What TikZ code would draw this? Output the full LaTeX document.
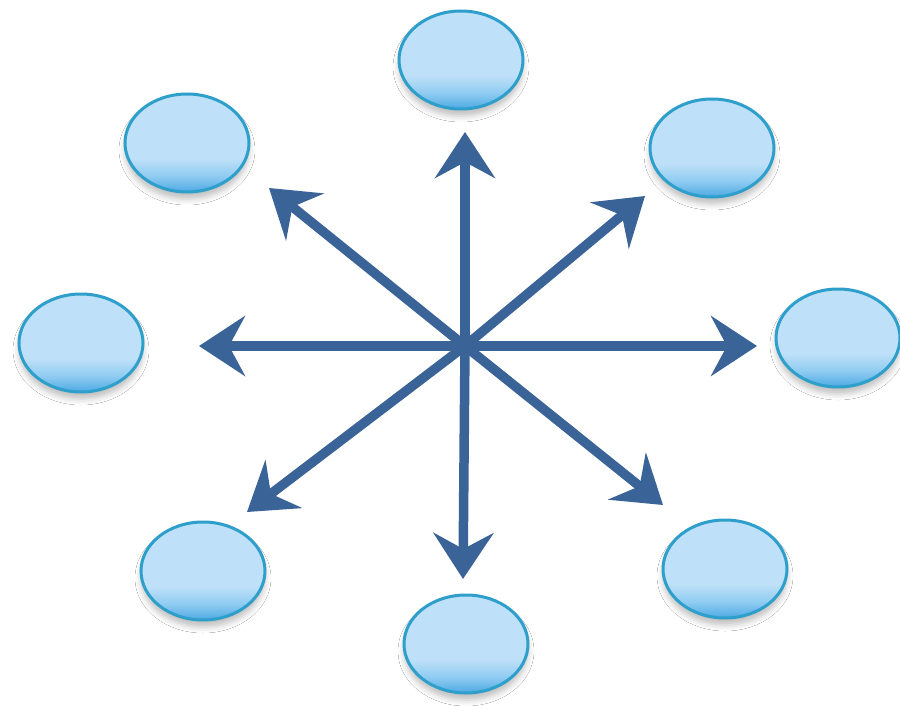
\documentclass[tikz,border=0pt]{standalone}
\usetikzlibrary{arrows.meta,shapes.geometric,shadows.blur}
\definecolor{arrowblue}{HTML}{3A6397}
\definecolor{rimblue}{HTML}{2E9FCB}
\definecolor{lightblue}{HTML}{BEE0F8}
\definecolor{midblue}{HTML}{8ECBF1}
\definecolor{darkblue}{HTML}{55AEE5}
\pgfdeclareverticalshading{bubbleshade}{100bp}{color(0bp)=(darkblue); color(26bp)=(darkblue); color(33bp)=(midblue); color(42bp)=(lightblue); color(100bp)=(lightblue)}
\begin{document}
\begin{tikzpicture}[x=1pt,y=-1pt,
  bubble/.style={ellipse, draw=rimblue, line width=3pt, inner sep=0pt,
    minimum width=124pt, minimum height=98pt, shading=bubbleshade,
    blur shadow={shadow xshift=0pt, shadow yshift=-7pt, shadow blur radius=6pt, shadow opacity=25}},
  arr/.style={draw=arrowblue, line width=9.5pt,
    -{Stealth[length=46pt,width=60pt,inset=16pt]}}]
\fill[white] (0,0) rectangle (900,706);
\useasboundingbox (0,0) rectangle (900,706);
% bubbles
\node[bubble] (bT)  at (461,60) {};
\node[bubble] (bTL) at (187,143) {};
\node[bubble] (bTR) at (712,148) {};
\node[bubble] (bL)  at (81,343) {};
\node[bubble] (bR)  at (838,338) {};
\node[bubble] (bBL) at (203,571) {};
\node[bubble] (bB)  at (466,644) {};
\node[bubble] (bBR) at (725,569) {};
% arrows
\coordinate (c) at (465,346);
\coordinate (tU) at (465,132);
\coordinate (tD) at (463,579);
\coordinate (tL) at (199,346);
\coordinate (tR) at (757,346);
\coordinate (tUL) at (269,188);
\coordinate (tUR) at (645,196);
\coordinate (tDL) at (247,512);
\coordinate (tDR) at (663,505);
\foreach \t in {tU,tD,tL,tR,tUL,tUR,tDL,tDR} \draw[arr] (c) -- (\t);
\end{tikzpicture}
\end{document}
